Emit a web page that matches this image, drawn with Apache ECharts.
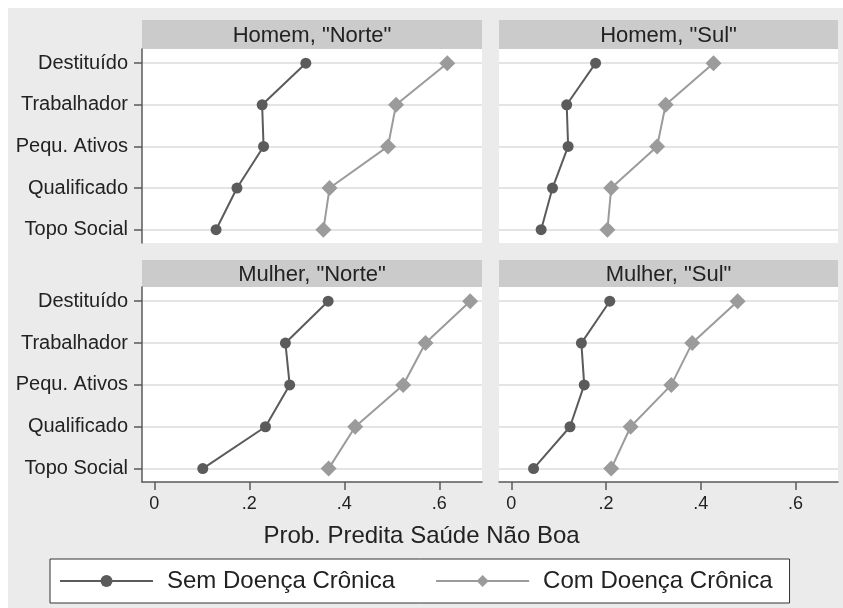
<!DOCTYPE html>
<html>
<head>
<meta charset="utf-8">
<script src="https://cdn.jsdelivr.net/npm/echarts@6/dist/echarts.min.js"></script>
<style>
html,body{margin:0;padding:0;background:#fff;}
#chart{width:843px;height:608px;}
</style>
</head>
<body>
<div id="chart"></div>
<script>
// ---- data ----
var categories = ['Destituído', 'Trabalhador', 'Pequ. Ativos', 'Qualificado', 'Topo Social'];
var panelTitles = ['Homem, "Norte"', 'Homem, "Sul"', 'Mulher, "Norte"', 'Mulher, "Sul"'];
var seriesNames = ['Sem Doença Crônica', 'Com Doença Crônica'];
var xTickValues = [0, 0.2, 0.4, 0.6];
var xTickLabels = ['0', '.2', '.4', '.6'];
var xTitle = 'Prob. Predita Saúde Não Boa';

var homemNorteSem = [0.319, 0.227, 0.230, 0.174, 0.130];
var homemNorteCom = [0.617, 0.509, 0.492, 0.369, 0.356];
var homemSulSem   = [0.178, 0.117, 0.120, 0.087, 0.063];
var homemSulCom   = [0.427, 0.326, 0.308, 0.211, 0.203];
var mulherNorteSem = [0.366, 0.276, 0.285, 0.234, 0.102];
var mulherNorteCom = [0.665, 0.571, 0.524, 0.423, 0.367];
var mulherSulSem   = [0.208, 0.148, 0.154, 0.124, 0.047];
var mulherSulCom   = [0.478, 0.382, 0.338, 0.252, 0.211];

var panelData = [
  [homemNorteSem, homemNorteCom],
  [homemSulSem, homemSulCom],
  [mulherNorteSem, mulherNorteCom],
  [mulherSulSem, mulherSulCom]
];

// ---- layout ----
var W = 843, H = 608;
var panels = [
  {x0: 142, x1: 482, y0: 49, y1: 243, hTop: 20, left: true, bottom: false},
  {x0: 499, x1: 838, y0: 49, y1: 243, hTop: 20, left: false, bottom: false},
  {x0: 142, x1: 482, y0: 287, y1: 482, hTop: 260, left: true, bottom: true},
  {x0: 499, x1: 838, y0: 287, y1: 482, hTop: 260, left: false, bottom: true}
];
var colors = ['#5b5b5b', '#9b9b9b'];
var symbols = ['circle', 'diamond'];
var symbolSizes = [11, 16];
var textColor = '#222';
var axisColor = '#5a5a5a';
var font = 'Liberation Sans, Arial, sans-serif';

var grids = [], xAxes = [], yAxes = [], series = [], graphics = [];

graphics.push({type: 'rect', shape: {x: 8, y: 8, width: W - 8, height: H - 8}, style: {fill: '#ebebeb'}, z: -10, silent: true});

panels.forEach(function (p, i) {
  grids.push({
    left: p.x0, top: p.y0, width: p.x1 - p.x0, height: p.y1 - p.y0,
    show: true, backgroundColor: '#ffffff', borderWidth: 0
  });
  xAxes.push({
    type: 'value', gridIndex: i, min: -0.026, max: 0.69,
    axisLine: {show: p.bottom, onZero: false, lineStyle: {color: axisColor, width: 1.5}},
    axisTick: {show: p.bottom, length: 8, customValues: xTickValues, lineStyle: {color: axisColor, width: 1.5}},
    axisLabel: {show: p.bottom, customValues: xTickValues, margin: 13, fontSize: 18, color: textColor, fontFamily: font,
      formatter: function (v) { var k = xTickValues.indexOf(v); return k >= 0 ? xTickLabels[k] : ''; }},
    splitLine: {show: false}
  });
  yAxes.push({
    type: 'value', gridIndex: i, inverse: true, min: -0.34, max: 4.32,
    axisLine: {show: p.left, onZero: false, lineStyle: {color: axisColor, width: 1.5}},
    axisTick: {show: p.left, length: 8, customValues: [0, 1, 2, 3, 4], lineStyle: {color: axisColor, width: 1.5}},
    axisLabel: {show: p.left, customValues: [0, 1, 2, 3, 4], margin: 14, fontSize: 20, color: textColor, fontFamily: font,
      formatter: function (v) { return categories[Math.round(v)] || ''; }},
    splitLine: {show: true, lineStyle: {color: '#e4e4e4', width: 2}}
  });
  panelData[i].forEach(function (vals, s) {
    series.push({
      type: 'line', name: seriesNames[s], xAxisIndex: i, yAxisIndex: i,
      data: vals.map(function (v, k) { return [v, k]; }),
      symbol: symbols[s], symbolSize: symbolSizes[s],
      lineStyle: {color: colors[s], width: 2},
      itemStyle: {color: colors[s]},
      z: 3 + s
    });
  });
  var hh = p.y0 - p.hTop;
  graphics.push({type: 'rect', shape: {x: p.x0, y: p.hTop, width: p.x1 - p.x0, height: hh}, style: {fill: '#cbcbcb'}, silent: true});
  graphics.push({type: 'text', x: (p.x0 + p.x1) / 2, y: p.hTop + hh / 2 + 1,
    style: {text: panelTitles[i], fill: textColor, font: '22px ' + font, textAlign: 'center', textVerticalAlign: 'middle'}, silent: true});
});

var chart = echarts.init(document.getElementById('chart'), null, {renderer: 'canvas'});
chart.setOption({
  animation: false,
  backgroundColor: '#ffffff',
  textStyle: {fontFamily: font},
  title: {text: xTitle, left: 'center', top: 524, padding: 0,
    textStyle: {fontSize: 24, fontWeight: 'normal', color: textColor, fontFamily: font}},
  legend: {
    data: seriesNames, left: 50, top: 559,
    padding: [10, 17, 10, 9], itemWidth: 93, itemHeight: 15, itemGap: 40,
    backgroundColor: '#ffffff', borderColor: '#333', borderWidth: 1, borderRadius: 0,
    textStyle: {fontSize: 24, color: textColor, fontFamily: font, padding: [0, 0, 0, 9]}
  },
  grid: grids,
  xAxis: xAxes,
  yAxis: yAxes,
  series: series,
  graphic: graphics
});
</script>
</body>
</html>
